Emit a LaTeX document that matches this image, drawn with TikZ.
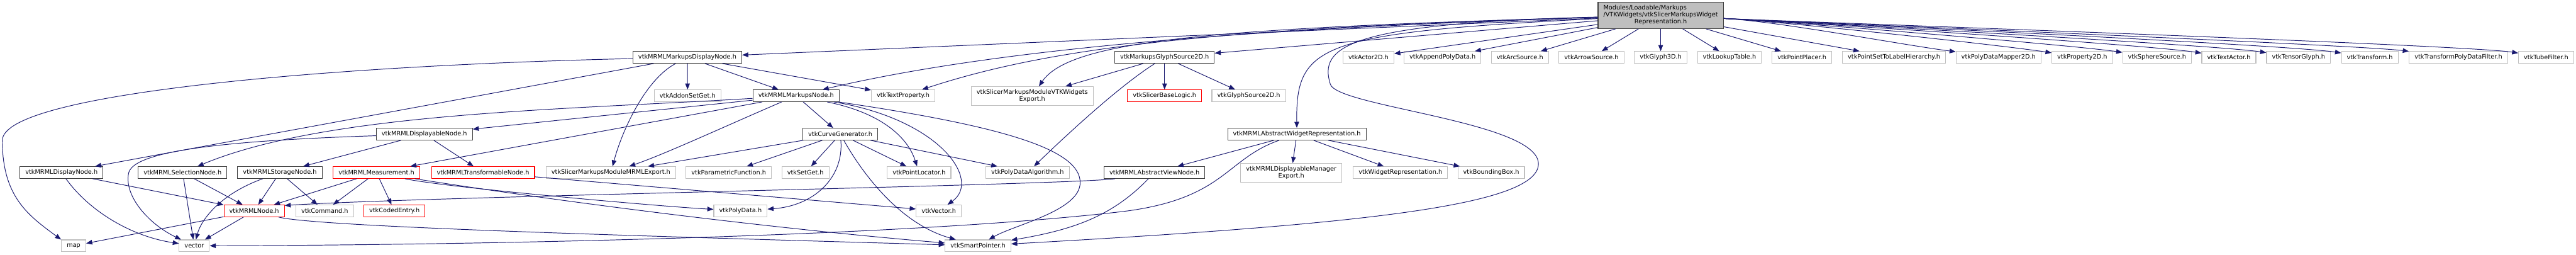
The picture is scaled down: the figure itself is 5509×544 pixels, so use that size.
\documentclass[tikz,border=0pt]{standalone}
\usepackage{fontspec}
\setmainfont{DejaVu Sans}
\usetikzlibrary{arrows.meta}
\definecolor{lienC}{RGB}{25,25,112}
\definecolor{grisF}{RGB}{64,64,64}
\definecolor{grisC}{RGB}{191,191,191}
\definecolor{rougeC}{RGB}{255,0,0}
\newcommand{\graphfont}{\fontsize{13.1}{14.4}\selectfont}
\tikzset{
  hfile/.style={rectangle, draw=#1, line width=1.5pt, fill=white, align=center, font=\graphfont,
                inner xsep=11.5pt, inner ysep=0pt, minimum height=25pt},
  hdoc/.style={hfile=grisF},
  hext/.style={hfile=grisC},
  hcut/.style={hfile=rougeC},
  arr/.style={-{Triangle[length=13pt,width=10pt]}, line width=1.3pt, draw=lienC},
}
\begin{document}
\begin{tikzpicture}[x=1pt, y=-1pt]
  \fill[white] (0,0) rectangle (5509,544);
  \useasboundingbox (0,0) rectangle (5509,544);

  \node[hdoc, fill=grisC, minimum height=56pt] (main) at (3551.5,33)
    {\begin{tabular}{@{}l@{}}Modules/Loadable/Markups\\/VTKWidgets/vtkSlicerMarkupsWidget\\\multicolumn{1}{@{}c@{}}{Representation.h}\end{tabular}};

  \node[hdoc] (mdn) at (1470,122.5) {vtkMRMLMarkupsDisplayNode.h};
  \node[hdoc] (mgs) at (2490.5,122.5) {vtkMarkupsGlyphSource2D.h};
  \node[hext] (actor) at (2926.5,122.5) {vtkActor2D.h};
  \node[hext] (append) at (3085,122.5) {vtkAppendPolyData.h};
  \node[hext] (arc) at (3250.5,122.5) {vtkArcSource.h};
  \node[hext] (arrowsrc) at (3403.5,122.5) {vtkArrowSource.h};
  \node[hext] (glyph) at (3551.5,122.5) {vtkGlyph3D.h};
  \node[hext] (lut) at (3698.5,122.5) {vtkLookupTable.h};
  \node[hext] (placer) at (3853.5,122.5) {vtkPointPlacer.h};
  \node[hext] (labels) at (4050.5,122.5) {vtkPointSetToLabelHierarchy.h};
  \node[hext] (mapper) at (4274,122.5) {vtkPolyDataMapper2D.h};
  \node[hext] (prop) at (4453,122.5) {vtkProperty2D.h};
  \node[hext] (sphere) at (4613,122.5) {vtkSphereSource.h};
  \node[hext] (textactor) at (4766.5,122.5) {vtkTextActor.h};
  \node[hext] (tensor) at (4915.5,122.5) {vtkTensorGlyph.h};
  \node[hext] (xform) at (5068,122.5) {vtkTransform.h};
  \node[hext] (xformpd) at (5257.5,122.5) {vtkTransformPolyDataFilter.h};
  \node[hext] (tube) at (5445,122.5) {vtkTubeFilter.h};

  \node[hext] (addon) at (1470.5,204.5) {vtkAddonSetGet.h};
  \node[hdoc] (mn) at (1702.5,204.5) {vtkMRMLMarkupsNode.h};
  \node[hext] (tp) at (1931.5,204.5) {vtkTextProperty.h};
  \node[hext, minimum height=40pt] (vwe) at (2207.5,205) {vtkSlicerMarkupsModuleVTKWidgets\\Export.h};
  \node[hcut] (sbl) at (2490.5,204.5) {vtkSlicerBaseLogic.h};
  \node[hext] (gsrc) at (2670.5,204.5) {vtkGlyphSource2D.h};

  \node[hdoc] (dbl) at (907.5,286.5) {vtkMRMLDisplayableNode.h};
  \node[hdoc] (cg) at (1797,286.5) {vtkCurveGenerator.h};
  \node[hdoc] (awr) at (2773.5,286.5) {vtkMRMLAbstractWidgetRepresentation.h};

  \node[hdoc] (dn) at (131.5,368.5) {vtkMRMLDisplayNode.h};
  \node[hdoc] (sn) at (390.5,368.5) {vtkMRMLSelectionNode.h};
  \node[hdoc] (stn) at (598.5,368.5) {vtkMRMLStorageNode.h};
  \node[hcut] (meas) at (805,368.5) {vtkMRMLMeasurement.h};
  \node[hcut] (trn) at (1033,368.5) {vtkMRMLTransformableNode.h};
  \node[hext] (mex) at (1306.5,368.5) {vtkSlicerMarkupsModuleMRMLExport.h};
  \node[hext] (pf) at (1558.5,368.5) {vtkParametricFunction.h};
  \node[hext] (setget) at (1722.5,368.5) {vtkSetGet.h};
  \node[hext] (pl) at (1965.5,368.5) {vtkPointLocator.h};
  \node[hext] (pda) at (2197.5,368.5) {vtkPolyDataAlgorithm.h};
  \node[hdoc] (avn) at (2469,368.5) {vtkMRMLAbstractViewNode.h};
  \node[hext, minimum height=40pt] (dme) at (2761.5,369) {vtkMRMLDisplayableManager\\Export.h};
  \node[hext] (wr) at (2995,368.5) {vtkWidgetRepresentation.h};
  \node[hext] (bb) at (3189,368.5) {vtkBoundingBox.h};

  \node[hcut] (mrml) at (543.5,450.5) {vtkMRMLNode.h};
  \node[hext] (cmd) at (694.5,450.5) {vtkCommand.h};
  \node[hcut] (coded) at (843.5,450.5) {vtkCodedEntry.h};
  \node[hext] (pd) at (1583.5,450.5) {vtkPolyData.h};
  \node[hext] (vvec) at (2007.5,450.5) {vtkVector.h};

  \node[hext] (map) at (157.5,525) {map};
  \node[hext] (vec) at (415.5,525) {vector};
  \node[hext] (sp) at (2091.5,525) {vtkSmartPointer.h};

  \draw[arr] (main) -- (actor); \draw[arr] (main) -- (append); \draw[arr] (main) -- (arc);
  \draw[arr] (main) -- (arrowsrc); \draw[arr] (main) -- (glyph); \draw[arr] (main) -- (lut);
  \draw[arr] (main) -- (placer); \draw[arr] (main) -- (labels);
  \draw[arr] (main) .. controls (3800,45) and (4063,95) .. (mapper);
  \draw[arr] (main) .. controls (3800,45) and (4268,95) .. (prop);
  \draw[arr] (main) .. controls (3800,45) and (4421,95) .. (sphere);
  \draw[arr] (main) .. controls (3800,45) and (4589,95) .. (textactor);
  \draw[arr] (main) .. controls (3800,45) and (4728,95) .. (tensor);
  \draw[arr] (main) .. controls (3800,45) and (4888,95) .. (xform);
  \draw[arr] (main) .. controls (3800,45) and (5032,95) .. (xformpd);
  \draw[arr] (main) .. controls (3800,45) and (5266,95) .. (tube);
  \draw[arr] (main) -- (mdn); \draw[arr] (main) -- (mgs);
  \draw[arr] (main) .. controls (2700,60) and (2150,100) .. (mn);
  \draw[arr] (main) .. controls (2600,60) and (2250,100) .. (tp);
  \draw[arr] (main) .. controls (2600,60) and (2290,85) .. (vwe);
  \draw[arr] (main) .. controls (2820,70) and (2771,95) .. (awr);
  \draw[arr] (main) .. controls (2880,50) and (2820,100) .. (2845,180)
    .. controls (2860,228) and (3290,260) .. (3290,350)
    .. controls (3290,440) and (2900,480) .. (sp);

  \draw[arr] (mdn) .. controls (700,140) and (5,200) .. (5,300)
    .. controls (5,420) and (60,460) .. (map.north west);
  \draw[arr] (mdn) -- (dn); \draw[arr] (mdn) -- (addon);
  \draw[arr] (mdn) -- (mn); \draw[arr] (mdn) -- (tp);
  \draw[arr] (mdn) .. controls (1380,170) and (1330,280) .. (mex);

  \draw[arr] (mgs) -- (vwe); \draw[arr] (mgs) -- (sbl); \draw[arr] (mgs) -- (gsrc);
  \draw[arr] (mgs) .. controls (2400,180) and (2300,270) .. (pda);

  \draw[arr] (mn) -- (dbl); \draw[arr] (mn) -- (meas); \draw[arr] (mn) -- (cg);
  \draw[arr] (mn) .. controls (1200,235) and (700,240) .. (sn);
  \draw[arr] (mn) .. controls (1550,270) and (1420,330) .. (mex);
  \draw[arr] (mn) .. controls (1880,240) and (1940,290) .. (pl);
  \draw[arr] (mn) .. controls (2010,255) and (2100,385) .. (vvec);
  \draw[arr] (mn) .. controls (2150,270) and (2310,320) .. (2310,390)
    .. controls (2310,450) and (2170,480) .. (sp);

  \draw[arr] (cg) -- (mex); \draw[arr] (cg) -- (pf); \draw[arr] (cg) -- (setget);
  \draw[arr] (cg) -- (pl); \draw[arr] (cg) -- (pda);
  \draw[arr] (cg) .. controls (1805,380) and (1740,440) .. (pd);
  \draw[arr] (cg) .. controls (1850,380) and (1930,480) .. (sp);

  \draw[arr] (awr) -- (avn); \draw[arr] (awr) -- (dme);
  \draw[arr] (awr) -- (wr); \draw[arr] (awr) -- (bb);
  \draw[arr] (awr) .. controls (2620,340) and (2620,425) .. (2400,452)
    .. controls (1900,510) and (900,524) .. (vec);

  \draw[arr] (avn) .. controls (2300,395) and (900,420) .. (mrml.10);
  \draw[arr] (avn) .. controls (2380,460) and (2300,490) .. (sp);

  \draw[arr] (dbl) .. controls (500,300) and (285,320) .. (275,370)
    .. controls (265,420) and (320,480) .. (vec);
  \draw[arr] (dbl) -- (stn); \draw[arr] (dbl) -- (trn);

  \draw[arr] (dn) -- (mrml); \draw[arr] (dn) .. controls (190,450) and (280,505) .. (vec);
  \draw[arr] (sn) -- (mrml); \draw[arr] (sn) -- (vec);
  \draw[arr] (stn) -- (mrml); \draw[arr] (stn) -- (cmd);
  \draw[arr] (stn) .. controls (470,415) and (430,470) .. (vec);

  \draw[arr] (meas) -- (mrml); \draw[arr] (meas) -- (cmd); \draw[arr] (meas) -- (coded);
  \draw[arr] (meas) .. controls (950,400) and (1400,440) .. (pd);
  \draw[arr] (meas) .. controls (1000,400) and (1500,475) .. (sp);
  \draw[arr] (trn) -- (vvec);

  \draw[arr] (mrml) -- (map); \draw[arr] (mrml) -- (vec);
  \draw[arr] (mrml) .. controls (680,485) and (1400,505) .. (sp);
\end{tikzpicture}
\end{document}
